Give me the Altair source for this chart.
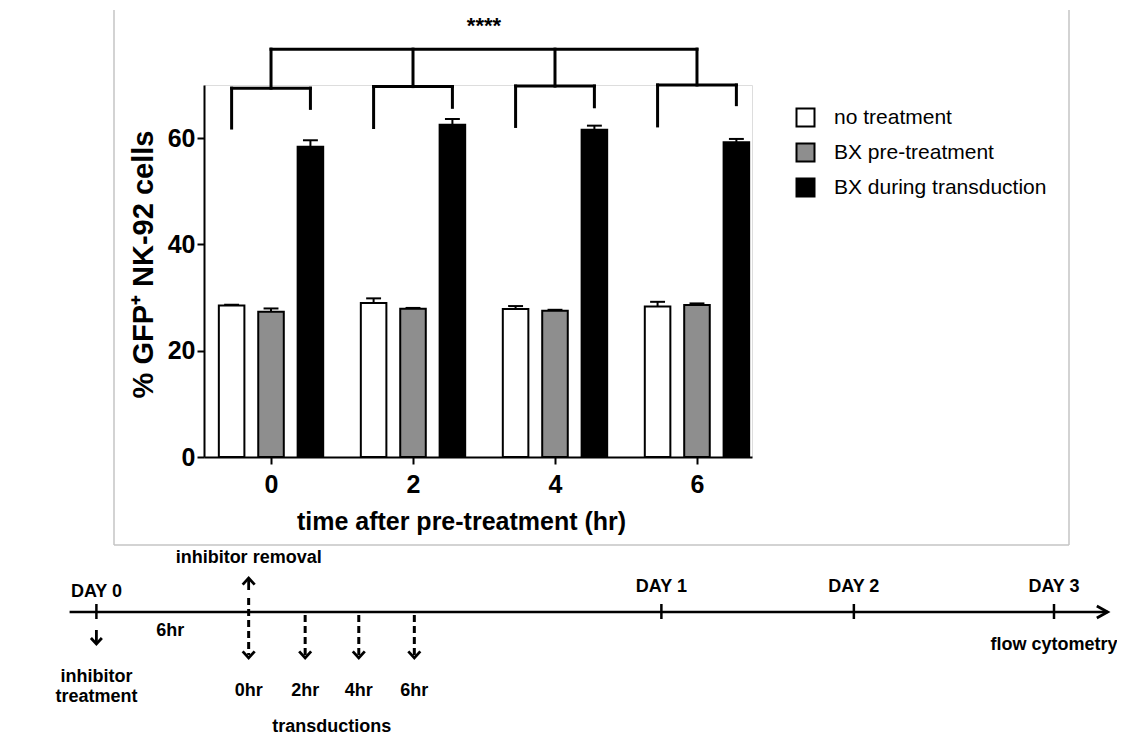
import altair as alt
import pandas as pd

# ---------------- data ----------------
times = [0, 2, 4, 6]
series = ["no treatment", "BX pre-treatment", "BX during transduction"]
no_treatment = [28.5, 29.0, 27.85, 28.3]
no_treatment_err = [0.15, 0.85, 0.55, 0.9]
bx_pre = [27.35, 27.9, 27.5, 28.6]
bx_pre_err = [0.6, 0.15, 0.2, 0.3]
bx_during = [58.4, 62.5, 61.6, 59.25]
bx_during_err = [1.2, 1.1, 0.75, 0.6]

y_ticks = [0, 20, 40, 60]
x_ticks = [0, 2, 4, 6]

bracket_top = 76.75
bracket_mid = [69.4, 69.7, 69.8, 70.0]
bracket_left_end = [61.9, 62.0, 62.2, 62.3]
bracket_right_end = [65.6, 65.8, 65.9, 66.3]
sig_label = "****"

# schematic timeline (positions in schematic units, DAY 0 = 0, DAY 3 = 100)
tl_day_labels = ["DAY 0", "DAY 1", "DAY 2", "DAY 3"]
tl_day_pos = [0, 59.0, 79.1, 100]
tl_trans_labels = ["0hr", "2hr", "4hr", "6hr"]
tl_trans_pos = [15.9, 21.8, 27.4, 33.2]
tl_line = [-2.8, 105.6]
tl_gap_label = "6hr"
tl_gap_pos = 7.7

# ---------------- style ----------------
FONT = "Liberation Sans, Arial, Helvetica, sans-serif"
COLORS = ["white", "#8e8e8e", "black"]
STEP = 0.555      # offset between bars in a group (x units)
HALF_BAR = 0.18   # half bar width (x units)
HALF_CAP = 0.105  # half error cap width

OX, OY = 204, 85   # plot origin on page (used for decorations)

rows = []
for si, (s, vals, errs) in enumerate(zip(series, [no_treatment, bx_pre, bx_during],
                                          [no_treatment_err, bx_pre_err, bx_during_err])):
    for t, v, e in zip(times, vals, errs):
        rows.append(dict(time=t, series=s, idx=si, value=v, err=e))
bars_df = pd.DataFrame(rows)

br_df = pd.DataFrame(dict(time=times, mid=bracket_mid, lend=bracket_left_end,
                          rend=bracket_right_end, top=[bracket_top] * 4))
top_df = pd.DataFrame(dict(x0=[min(times)], x1=[max(times)], top=[bracket_top],
                           label=[sig_label]))

xs = alt.Scale(domain=[-0.944, 6.775], nice=False, zero=False)
ys = alt.Scale(domain=[0, 70], nice=False)

x_axis = alt.Axis(values=x_ticks, title="time after pre-treatment (hr)", grid=False,
                  domainColor="black", domainWidth=2, tickColor="black", tickWidth=2,
                  tickSize=7, labelFontSize=25, labelFont=FONT, labelFontWeight="bold",
                  labelColor="black", labelPadding=8, labelFlush=False,
                  titleFontSize=25, titleFont=FONT, titleFontWeight="bold",
                  titleColor="black", titlePadding=12, titleX=257)
y_axis = alt.Axis(values=y_ticks, title="% GFP⁺ NK-92 cells", grid=False,
                  domainColor="black", domainWidth=2, tickColor="black", tickWidth=2,
                  tickSize=7, labelFontSize=25, labelFont=FONT, labelFontWeight="bold",
                  labelColor="black", labelPadding=2,
                  titleFontSize=29, titleFont=FONT, titleFontWeight="bold",
                  titleColor="black", titlePadding=9, titleY=179)


def X(f):
    return alt.X(f, type="quantitative", scale=xs, axis=x_axis)


def Y(f):
    return alt.Y(f, type="quantitative", scale=ys, axis=y_axis)


base = alt.Chart(bars_df).transform_calculate(
    center=f"datum.time + (datum.idx - 1) * {STEP}",
).transform_calculate(
    x0=f"datum.center - {HALF_BAR}",
    x1=f"datum.center + {HALF_BAR}",
    cl=f"datum.center - {HALF_CAP}",
    cr=f"datum.center + {HALF_CAP}",
    top="datum.value + datum.err",
)

bars = base.mark_bar(stroke="black", strokeWidth=2).encode(
    x=X("x0"), x2="x1:Q",
    y=Y("value"), y2=alt.datum(0),
    fill=alt.Fill("series:N", scale=alt.Scale(domain=series, range=COLORS),
                  legend=alt.Legend(orient="none", legendX=591, legendY=22, title=None,
                                    symbolType="square", symbolSize=324,
                                    symbolStrokeColor="black", symbolStrokeWidth=2,
                                    labelFontSize=21, labelFont=FONT, labelColor="black",
                                    labelOffset=18, rowPadding=8, padding=0, labelLimit=0)),
)
err_rule = base.mark_rule(color="black", strokeWidth=2).encode(
    x=X("center"), y=Y("value"), y2="top:Q")
err_cap = base.mark_rule(color="black", strokeWidth=2).encode(
    x=X("cl"), x2="cr:Q", y=Y("top"))

brb = alt.Chart(br_df).transform_calculate(
    xl=f"datum.time - {STEP}", xr=f"datum.time + {STEP}")
BR = dict(color="black", strokeWidth=3, strokeCap="square")
br_h = brb.mark_rule(**BR).encode(x=X("xl"), x2="xr:Q", y=Y("mid"))
br_l = brb.mark_rule(**BR).encode(x=X("xl"), y=Y("lend"), y2="mid:Q")
br_r = brb.mark_rule(**BR).encode(x=X("xr"), y=Y("rend"), y2="mid:Q")
br_s = brb.mark_rule(**BR).encode(x=X("time"), y=Y("mid"), y2="top:Q")
top_h = alt.Chart(top_df).mark_rule(**BR).encode(x=X("x0"), x2="x1:Q", y=Y("top"))
sig = alt.Chart(top_df).transform_calculate(
    xm="(datum.x0 + datum.x1) / 2", ym="datum.top + 4.4"
).mark_text(font=FONT, fontSize=22, fontWeight="bold", color="black").encode(
    x=X("xm"), y=Y("ym"), text="label:N")

plot = alt.layer(bars, err_rule, err_cap, br_h, br_l, br_r, br_s, top_h, sig)

# ---------------- frame (decoration) ----------------
one = pd.DataFrame({"a": [0]})
FR = dict(color="#c4c4c4", strokeWidth=1.5)
frame = alt.layer(
    alt.Chart(one).mark_rule(**FR).encode(x=alt.value(114 - OX), y=alt.value(10 - OY), y2=alt.value(545 - OY)),
    alt.Chart(one).mark_rule(**FR).encode(x=alt.value(1069 - OX), y=alt.value(10 - OY), y2=alt.value(545 - OY)),
    alt.Chart(one).mark_rule(**FR).encode(x=alt.value(114 - OX), x2=alt.value(1069 - OX), y=alt.value(545 - OY)),
)

# ---------------- timeline ----------------
ts = alt.Scale(domain=[0, 100], range=[96.4 - OX, 1054 - OX], nice=False, zero=False)


def TX(f):
    return alt.X(f, type="quantitative", scale=ts, axis=None)


def py(v):
    return alt.value(v - OY)


TXT = dict(font=FONT, fontSize=18, fontWeight="bold", color="black")
DOWN = "M-1,-1.1L0,0L1,-1.1"
UP = "M-1,1.1L0,0L1,1.1"
RIGHT = "M-1.8,-1L0,0L-1.8,1"
CHEV = dict(filled=False, color="black", strokeWidth=2.8, strokeJoin="miter", opacity=1)

line_df = pd.DataFrame(dict(s=[tl_line[0]], e=[tl_line[1]]))
days_df = pd.DataFrame(dict(pos=tl_day_pos, label=tl_day_labels))
trans_df = pd.DataFrame(dict(pos=tl_trans_pos, label=tl_trans_labels))

tl_main = alt.Chart(line_df).mark_rule(color="black", strokeWidth=2.5).encode(
    x=TX("s"), x2="e:Q", y=py(612))
tl_tip = alt.Chart(line_df).mark_point(shape=RIGHT, size=144, **CHEV).encode(
    x=TX("e"), y=py(612))
tl_ticks = alt.Chart(days_df).mark_rule(color="black", strokeWidth=2.5).encode(
    x=TX("pos"), y=py(604), y2=py(619))
tl_day0 = alt.Chart(days_df).transform_filter("datum.pos == 0").mark_text(**TXT).encode(
    x=TX("pos"), y=py(592), text="label:N")
tl_dayn = alt.Chart(days_df).transform_filter("datum.pos > 0").mark_text(**TXT).encode(
    x=TX("pos"), y=py(587), text="label:N")
# inhibitor treatment arrow at DAY 0
d0 = days_df[days_df.pos == 0]
tl_d0_stem = alt.Chart(d0).mark_rule(color="black", strokeWidth=2.8).encode(
    x=TX("pos"), y=py(630), y2=py(643))
tl_d0_head = alt.Chart(d0).mark_point(shape=DOWN, size=120, **CHEV).encode(
    x=TX("pos"), y=py(644))
tl_inh1 = alt.Chart(d0).mark_text(**TXT).encode(x=TX("pos"), y=py(677), text=alt.value("inhibitor"))
tl_inh2 = alt.Chart(d0).mark_text(**TXT).encode(x=TX("pos"), y=py(697), text=alt.value("treatment"))
# 6hr gap label
gap_df = pd.DataFrame(dict(pos=[tl_gap_pos], label=[tl_gap_label]))
tl_gap = alt.Chart(gap_df).mark_text(**TXT).encode(x=TX("pos"), y=py(631), text="label:N")
# inhibitor removal (at 0hr)
rem = trans_df.iloc[[0]]
tl_rem_stem = alt.Chart(rem).mark_rule(color="black", strokeWidth=2.8).encode(
    x=TX("pos"), y=py(579), y2=py(590))
tl_rem_head = alt.Chart(rem).mark_point(shape=UP, size=144, **CHEV).encode(
    x=TX("pos"), y=py(578))
tl_rem_text = alt.Chart(rem).mark_text(**TXT).encode(
    x=TX("pos"), y=py(558), text=alt.value("inhibitor removal"))
tl_rem_dash = alt.Chart(rem).mark_rule(color="black", strokeWidth=3, strokeDash=[7, 4]).encode(
    x=TX("pos"), y=py(598), y2=py(655))
# transductions
later = trans_df.iloc[1:]
tl_tr_dash = alt.Chart(later).mark_rule(color="black", strokeWidth=3, strokeDash=[7, 4]).encode(
    x=TX("pos"), y=py(615), y2=py(655))
tl_tr_head = alt.Chart(trans_df).mark_point(shape=DOWN, size=144, **CHEV).encode(
    x=TX("pos"), y=py(658))
tl_tr_lab = alt.Chart(trans_df).mark_text(**TXT).encode(x=TX("pos"), y=py(691), text="label:N")
tl_tr_title = alt.Chart(trans_df).transform_aggregate(m="mean(pos)").mark_text(**TXT).encode(
    x=TX("m"), y=py(727), text=alt.value("transductions"))
# flow cytometry at DAY 3
d3 = days_df[days_df.pos == 100]
tl_flow = alt.Chart(d3).mark_text(**TXT).encode(x=TX("pos"), y=py(645), text=alt.value("flow cytometry"))

timeline = alt.layer(tl_main, tl_tip, tl_ticks, tl_day0, tl_dayn, tl_d0_stem, tl_d0_head,
                     tl_inh1, tl_inh2, tl_gap, tl_rem_stem, tl_rem_head, tl_rem_text,
                     tl_rem_dash, tl_tr_dash, tl_tr_head, tl_tr_lab, tl_tr_title, tl_flow)

chart = alt.layer(frame, plot, timeline).resolve_scale(x="independent", y="independent").properties(
    width=548, height=372,
    autosize=alt.AutoSizeParams(type="none"),
    padding={"left": OX - 8, "top": OY - 8, "right": 1117 - 548 - OX, "bottom": 736 - 372 - OY},
).configure_view(stroke=None).configure(background="white")

chart.save("out.html", embed_options={"renderer": "svg", "actions": False})
